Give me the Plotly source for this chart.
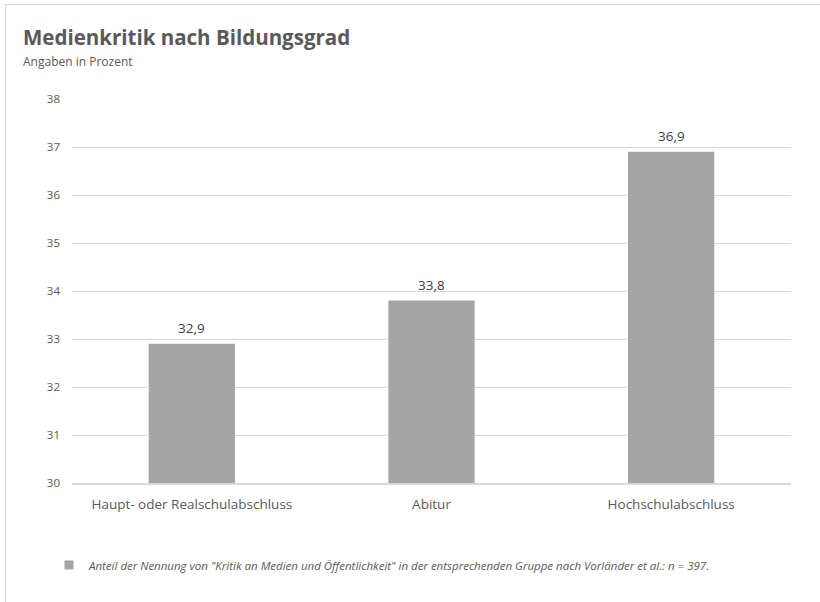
import plotly.graph_objects as go

categories = ["Haupt- oder Realschulabschluss", "Abitur", "Hochschulabschluss"]
values = [32.9, 33.8, 36.9]
value_labels = ["32,9", "33,8", "36,9"]
series_name = 'Anteil der Nennung von "Kritik an Medien und Öffentlichkeit" in der entsprechenden Gruppe nach Vorländer et al.: n = 397.'
title_text = "Medienkritik nach Bildungsgrad"
subtitle_text = "Angaben in Prozent"

W, H = 820, 602
L, R, T, B = 72, 29, 99, 119
pw, ph = W - L - R, H - T - B

def px_x(x):
    return (x - L) / pw

def px_y(y):
    return 1 - (y - T) / ph

FONT = "Open Sans"
BAR_COLOR = "#A5A5A5"
fig = go.Figure()
fig.add_trace(go.Bar(
    x=categories, y=values, showlegend=False,
    marker=dict(color=BAR_COLOR, line=dict(width=0)),
    width=0.36, hoverinfo="x+y",
))
# legend entry (small square symbol like the reference)
fig.add_trace(go.Scatter(
    x=[None], y=[None], mode="markers", name="<i>" + series_name + "</i>",
    marker=dict(symbol="square", size=9, color=BAR_COLOR),
))

annotations = [
    dict(text="<b>" + title_text + "</b>", xref="paper", yref="paper",
         x=px_x(21), y=px_y(37), xanchor="left", yanchor="middle", showarrow=False,
         font=dict(family=FONT, size=20.5, color="#595959")),
    dict(text=subtitle_text, xref="paper", yref="paper",
         x=px_x(21), y=px_y(62), xanchor="left", yanchor="middle", showarrow=False,
         font=dict(family=FONT, size=12, color="#595959")),
]
for c, v, t in zip(categories, values, value_labels):
    annotations.append(dict(text=t, x=c, y=v, xref="x", yref="y", yanchor="middle",
                            yshift=16, showarrow=False,
                            font=dict(family=FONT, size=13.5, color="#404040")))

fig.update_layout(
    width=W, height=H,
    margin=dict(l=L, r=R, t=T, b=B),
    paper_bgcolor="white", plot_bgcolor="white",
    font=dict(family=FONT, color="#595959"),
    showlegend=True,
    legend=dict(orientation="h", x=px_x(49), y=px_y(565), xanchor="left", yanchor="middle",
                font=dict(family=FONT, size=11.5, color="#595959"), bgcolor="rgba(0,0,0,0)"),
    xaxis=dict(showgrid=False, showline=True, linecolor="#D9D9D9", linewidth=1.5,
               ticks="", ticklabelstandoff=8,
               tickfont=dict(family=FONT, size=13.5, color="#595959")),
    yaxis=dict(range=[30, 38], dtick=1, showgrid=True, gridcolor="#D9D9D9", gridwidth=1,
               zeroline=False, ticks="", ticklabelstandoff=11,
               tickfont=dict(family=FONT, size=11.5, color="#595959")),
    annotations=annotations,
    shapes=[
        dict(type="line", xref="paper", yref="paper", x0=px_x(5.5), x1=px_x(830),
             y0=px_y(4.5), y1=px_y(4.5), line=dict(color="#D9D9D9", width=1)),
        dict(type="line", xref="paper", yref="paper", x0=px_x(5.5), x1=px_x(5.5),
             y0=px_y(4.5), y1=px_y(610), line=dict(color="#D9D9D9", width=1)),
    ],
)

fig.write_html("out.html")
